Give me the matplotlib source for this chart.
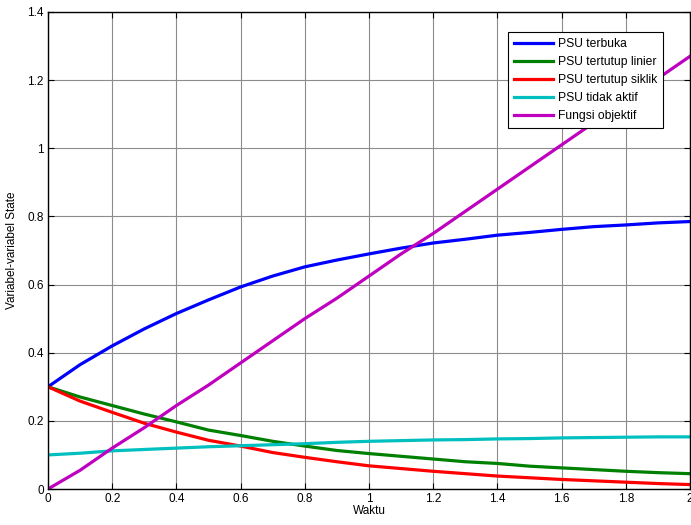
import numpy as np
import matplotlib.pyplot as plt

plt.rcParams['font.family'] = ['Liberation Sans', 'DejaVu Sans']

waktu = [0.0, 0.1, 0.2, 0.3, 0.4, 0.5, 0.6, 0.7, 0.8, 0.9, 1.0,
         1.1, 1.2, 1.3, 1.4, 1.5, 1.6, 1.7, 1.8, 1.9, 2.0]
terbuka = [0.300, 0.365, 0.420, 0.470, 0.515, 0.555, 0.593, 0.625, 0.652, 0.672, 0.690,
           0.707, 0.722, 0.733, 0.745, 0.753, 0.762, 0.770, 0.775, 0.781, 0.785]
linier = [0.300, 0.270, 0.245, 0.220, 0.197, 0.173, 0.157, 0.140, 0.126, 0.113, 0.104,
          0.096, 0.088, 0.080, 0.075, 0.067, 0.062, 0.057, 0.052, 0.048, 0.045]
siklik = [0.300, 0.258, 0.225, 0.193, 0.167, 0.143, 0.126, 0.107, 0.093, 0.080, 0.068,
          0.060, 0.052, 0.045, 0.038, 0.033, 0.028, 0.024, 0.020, 0.016, 0.013]
tidak_aktif = [0.100, 0.105, 0.112, 0.116, 0.120, 0.124, 0.127, 0.130, 0.133, 0.137, 0.140,
               0.142, 0.144, 0.145, 0.147, 0.148, 0.150, 0.151, 0.152, 0.153, 0.153]
objektif = [0.000, 0.055, 0.120, 0.180, 0.245, 0.305, 0.370, 0.435, 0.500, 0.560, 0.625,
            0.690, 0.750, 0.815, 0.880, 0.945, 1.010, 1.075, 1.140, 1.205, 1.270]

fig = plt.figure(figsize=(6.91, 5.25), dpi=100)
ax = fig.add_axes([48/691, 36/525, (690-48)/691, 477/525])

lw = 2.3
ax.plot(waktu, terbuka, color='#0000ff', lw=lw, label='PSU terbuka')
ax.plot(waktu, linier, color='#008000', lw=lw, label='PSU tertutup linier')
ax.plot(waktu, siklik, color='#ff0000', lw=lw, label='PSU tertutup siklik')
ax.plot(waktu, tidak_aktif, color='#00bfbf', lw=lw, label='PSU tidak aktif')
ax.plot(waktu, objektif, color='#bf00bf', lw=lw, label='Fungsi objektif')

ax.set_xlim(0, 2)
ax.set_ylim(0, 1.4)
ax.set_xticks(np.arange(0, 2.01, 0.2))
ax.set_yticks(np.arange(0, 1.41, 0.2))
ax.set_xticklabels(['0', '0.2', '0.4', '0.6', '0.8', '1', '1.2', '1.4', '1.6', '1.8', '2'])
ax.set_yticklabels(['0', '0.2', '0.4', '0.6', '0.8', '1', '1.2', '1.4'])
ax.grid(True, color='#8c8c8c', lw=0.8)
ax.tick_params(direction='in', top=True, right=True, labelsize=8.5, length=4, pad=3)
for s in ax.spines.values():
    s.set_linewidth(1.0)

ax.set_xlabel('Waktu', fontsize=8.5, labelpad=0)
ax.set_ylabel('Variabel-variabel State', fontsize=8.5, labelpad=7)

leg = ax.legend(loc='upper right', bbox_to_anchor=(0.958, 0.958), borderaxespad=0,
                fontsize=8.7, fancybox=False, handlelength=3.2, labelspacing=0.5,
                borderpad=0.5, handletextpad=0.4)
leg.get_frame().set_edgecolor('black')
leg.get_frame().set_linewidth(0.8)
leg.get_frame().set_alpha(1)

fig.savefig('out.png', dpi=100)
